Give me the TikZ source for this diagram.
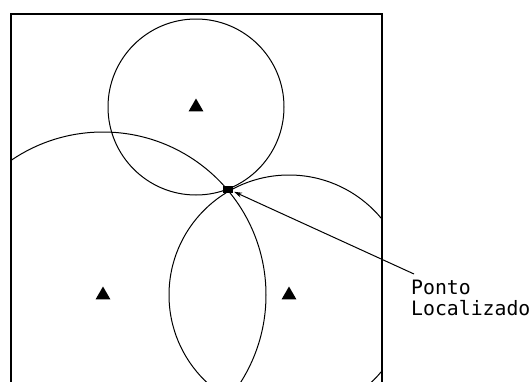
\documentclass[tikz,border=0pt]{standalone}
\usepackage{fontspec}
\newfontfamily\labelfont{DejaVu Sans Mono}
\usetikzlibrary{shapes.geometric,arrows.meta}
\begin{document}
\begin{tikzpicture}[x=1pt,y=-1pt,
  tri/.style={regular polygon,regular polygon sides=3,fill=black,minimum size=17pt,inner sep=0pt},
  ring/.style={line width=1pt},
  frame/.style={line width=1.6pt},
  spot/.style={rectangle,fill=black,minimum width=10pt,minimum height=7pt,inner sep=0pt},
  pointer/.style={line width=1pt,-{Stealth[length=8pt,width=5pt]},shorten >=1pt},
  lbl/.style={font=\labelfont\fontsize{19.8}{21}\selectfont,align=left,anchor=north west,inner sep=0pt}]
\useasboundingbox (0,0) rectangle (531,381);
% frame
\draw[frame] (11,390) -- (11,14) -- (382,14) -- (382,390);
% stations
\node[tri] (top) at (196,107) {};
\node[tri] (left) at (103,295) {};
\node[tri] (right) at (289,295) {};
% circles
\begin{scope}
\clip (11,14) rectangle (382,381);
\draw[ring] (top.center) circle[radius=88pt];
\draw[ring] (left.center) circle[radius=163pt];
\draw[ring] (right.center) circle[radius=120pt];
\end{scope}
% located point
\node[spot] (p) at (228,189) {};
% label
\node[lbl] (txt) at (411,280) {Ponto\\Localizado};
\coordinate (tail) at (414,274);
\draw[pointer] (tail) -- (p);
\end{tikzpicture}
\end{document}
